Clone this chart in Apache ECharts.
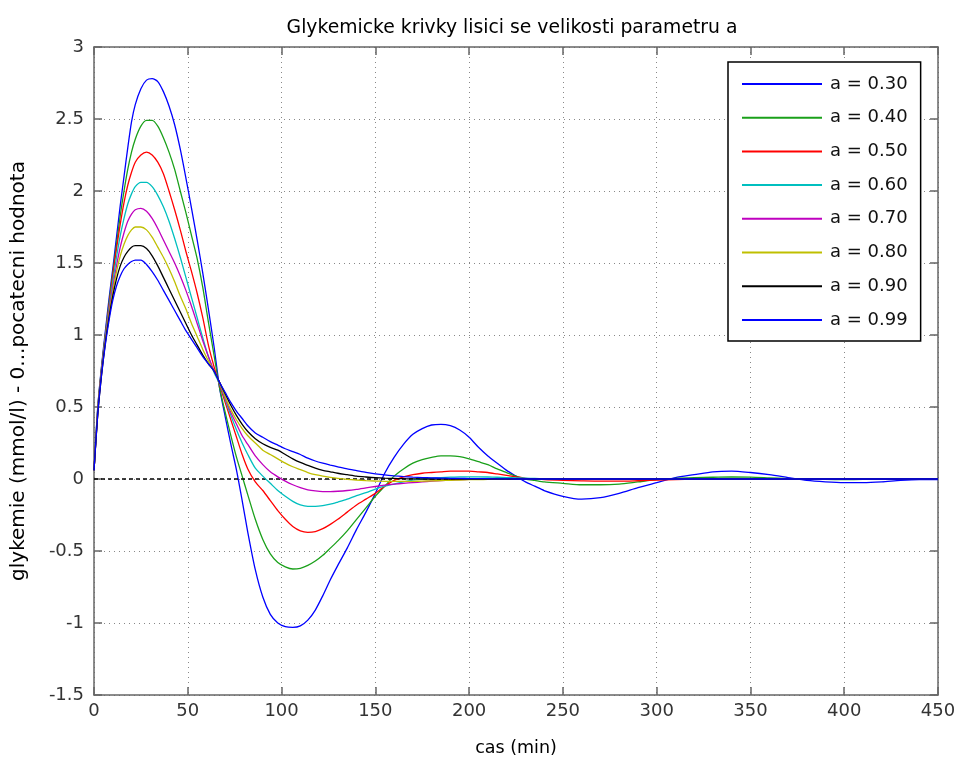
<!DOCTYPE html>
<html>
<head>
<meta charset="utf-8">
<script src="https://cdn.jsdelivr.net/npm/echarts@6/dist/echarts.min.js"></script>
<style>html,body{margin:0;padding:0;background:#fff}#c{width:955px;height:760px}</style>
</head>
<body>
<div id="c"></div>
<script>
const T = [0,2,4,6,8,10,12,14,16,18,20,22,25,28,31,34,37,40,43,46,49,52,55,58,61,64,67,70,73,76,79,82,86,90,94,98,102,106,110,114,118,122,126,130,135,140,145,150,155,160,165,170,175,180,185,190,195,200,205,210,215,220,225,230,235,240,250,260,270,280,290,300,310,320,330,340,350,360,370,380,390,400,410,420,430,440,450];

const a030 = [0.06,0.5,0.78,1.02,1.25,1.46,1.68,1.9,2.1,2.3,2.48,2.6,2.71,2.77,2.78,2.76,2.69,2.59,2.46,2.29,2.09,1.88,1.66,1.43,1.18,0.92,
  0.63,0.43,0.24,0.06,-0.15,-0.37,-0.63,-0.82,-0.94,-1.0,-1.025,-1.03,-1.02,-0.98,-0.91,-0.81,-0.7,-0.6,
  -0.48,-0.35,-0.23,-0.1,0.04,0.15,0.24,0.31,0.35,0.375,0.38,0.37,0.34,0.29,0.22,0.16,0.11,0.06,0.02,-0.02,-0.05,-0.08,
  -0.12,-0.14,-0.13,-0.1,-0.06,-0.025,0.01,0.03,0.05,0.055,0.045,0.03,0.01,-0.01,-0.02,-0.025,-0.025,-0.02,-0.01,-0.005,-0.005];

const a040 = [0.06,0.49,0.77,1.0,1.22,1.43,1.63,1.83,2.0,2.15,2.27,2.36,2.45,2.49,2.49,2.45,2.37,2.27,2.15,2.0,1.85,1.69,1.53,1.33,1.09,0.86,
  0.63,0.46,0.3,0.15,0.02,-0.11,-0.28,-0.42,-0.52,-0.58,-0.61,-0.625,-0.62,-0.6,-0.57,-0.53,-0.48,-0.43,
  -0.36,-0.28,-0.2,-0.12,-0.05,0.02,0.07,0.11,0.135,0.15,0.16,0.16,0.155,0.14,0.12,0.1,0.07,0.045,0.02,0.0,-0.01,-0.02,
  -0.03,-0.04,-0.04,-0.035,-0.02,-0.005,0.005,0.01,0.012,0.014,0.013,0.008,0.003,0,-0.003,-0.004,-0.003,-0.002,-0.001,0,0];

const a050 = [0.06,0.48,0.76,0.99,1.2,1.41,1.6,1.77,1.92,2.04,2.13,2.2,2.25,2.27,2.25,2.2,2.12,2.0,1.87,1.73,1.58,1.44,1.29,1.12,0.93,0.78,
  0.65,0.53,0.41,0.29,0.17,0.07,-0.02,-0.08,-0.15,-0.22,-0.28,-0.33,-0.36,-0.37,-0.365,-0.345,-0.315,-0.28,
  -0.23,-0.18,-0.14,-0.1,-0.05,-0.01,0.015,0.03,0.04,0.045,0.05,0.055,0.055,0.055,0.05,0.045,0.035,0.025,0.015,0.005,0,-0.005,
  -0.01,-0.013,-0.015,-0.015,-0.012,-0.008,-0.004,0,0.002,0.003,0.002,0.001,0,0,0,0,0,0,0,0,0];

const a060 = [0.06,0.47,0.75,0.98,1.18,1.37,1.54,1.69,1.81,1.91,1.98,2.03,2.06,2.06,2.03,1.97,1.89,1.79,1.67,1.54,1.4,1.26,1.12,0.98,0.85,0.74,
  0.66,0.55,0.44,0.34,0.25,0.17,0.075,0.02,-0.03,-0.08,-0.12,-0.155,-0.18,-0.19,-0.19,-0.185,-0.175,-0.16,
  -0.14,-0.115,-0.095,-0.07,-0.05,-0.035,-0.02,-0.008,0,0.006,0.01,0.013,0.015,0.015,0.015,0.014,0.012,0.01,0.008,0.006,0.004,0.002,
  0,-0.002,-0.003,-0.003,-0.002,-0.001,0,0,0,0,0,0,0,0,0,0,0,0,0,0,0];

const a070 = [0.06,0.46,0.74,0.96,1.16,1.33,1.48,1.61,1.71,1.79,1.84,1.87,1.88,1.86,1.81,1.74,1.66,1.58,1.5,1.41,1.31,1.2,1.08,0.96,0.85,0.75,
  0.67,0.56,0.46,0.38,0.3,0.24,0.16,0.1,0.05,0.015,-0.015,-0.04,-0.06,-0.075,-0.083,-0.087,-0.087,-0.085,
  -0.08,-0.072,-0.062,-0.052,-0.043,-0.036,-0.03,-0.025,-0.02,-0.015,-0.011,-0.008,-0.005,-0.003,-0.001,0,0.001,0.001,0.001,0,0,0,
  0,0,0,0,0,0,0,0,0,0,0,0,0,0,0,0,0,0,0,0,0];

const a080 = [0.06,0.46,0.73,0.95,1.14,1.3,1.44,1.55,1.63,1.69,1.73,1.75,1.75,1.73,1.68,1.61,1.54,1.46,1.37,1.27,1.18,1.08,0.99,0.9,0.82,0.75,
  0.67,0.57,0.48,0.41,0.35,0.3,0.25,0.2,0.17,0.14,0.11,0.085,0.065,0.045,0.03,0.02,0.012,0.005,
  -0.002,-0.007,-0.011,-0.014,-0.016,-0.017,-0.017,-0.016,-0.015,-0.013,-0.011,-0.009,-0.007,-0.005,-0.004,-0.003,-0.002,-0.001,0,0,0,0,
  0,0,0,0,0,0,0,0,0,0,0,0,0,0,0,0,0,0,0,0,0];

const a090 = [0.06,0.45,0.72,0.94,1.12,1.27,1.39,1.48,1.54,1.58,1.61,1.62,1.62,1.6,1.55,1.48,1.4,1.32,1.24,1.16,1.08,1.0,0.93,0.86,0.8,0.75,
  0.67,0.59,0.51,0.44,0.38,0.33,0.28,0.245,0.22,0.2,0.17,0.14,0.115,0.095,0.075,0.06,0.05,0.04,
  0.03,0.02,0.014,0.009,0.006,0.004,0.002,0.001,0,0,0,0,0,0,0,0,0,0,0,0,0,0,
  0,0,0,0,0,0,0,0,0,0,0,0,0,0,0,0,0,0,0,0,0];

const a099 = [0.06,0.45,0.72,0.93,1.1,1.24,1.34,1.41,1.46,1.49,1.51,1.52,1.52,1.49,1.44,1.38,1.31,1.24,1.17,1.1,1.03,0.97,0.91,0.85,0.8,0.75,
  0.67,0.6,0.53,0.47,0.42,0.37,0.32,0.29,0.26,0.235,0.21,0.19,0.17,0.145,0.125,0.11,0.097,0.085,
  0.07,0.058,0.046,0.036,0.028,0.022,0.017,0.013,0.01,0.008,0.006,0.005,0.004,0.003,0.002,0.002,0.001,0.001,0,0,0,0,
  0,0,0,0,0,0,0,0,0,0,0,0,0,0,0,0,0,0,0,0,0];

const seriesNames = ['a = 0.30','a = 0.40','a = 0.50','a = 0.60','a = 0.70','a = 0.80','a = 0.90','a = 0.99'];
const seriesValues = [a030,a040,a050,a060,a070,a080,a090,a099];
const xTicks = {min:0, max:450, step:50};
const yTicks = {min:-1.5, max:3, step:0.5};

const colors = ['#0000ff','#1aa01a','#ff0000','#00bfbf','#bf00bf','#bfbf00','#000000','#0000ff'];
const FONT = 'DejaVu Sans';

const chart = echarts.init(document.getElementById('c'), null, {renderer:'canvas'});

const series = seriesValues.map((vals, i) => ({
  name: seriesNames[i],
  type: 'line',
  data: T.map((t, j) => [t, vals[j]]),
  showSymbol: false,
  symbol: 'none',
  smooth: 0.25,
  lineStyle: {color: colors[i], width: 1.3},
  itemStyle: {color: colors[i]},
  z: 3 + i,
  markLine: i === 0 ? {
    silent: true, symbol: 'none', label: {show: false},
    lineStyle: {color: '#000', type: [4, 3], width: 1.5},
    data: [{yAxis: 0}]
  } : undefined
}));

const axisColor = '#666';
function xAx(pos, main) {
  return {
    type: 'value', position: pos, min: xTicks.min, max: xTicks.max, interval: xTicks.step,
    axisLine: {show: true, onZero: false, lineStyle: {color: axisColor, width: 1.5}},
    axisTick: {show: true, inside: true, length: 8, lineStyle: {color: axisColor, width: 1.5}},
    axisLabel: {show: main, color: '#333', fontSize: 18, fontFamily: FONT, margin: 7},
    splitLine: {show: main, lineStyle: {color: '#888', type: [1, 4], width: 1}},
    name: main ? 'cas (min)' : '', nameLocation: 'middle', nameGap: 44,
    nameTextStyle: {color: '#000', fontSize: 17.5, fontFamily: FONT}
  };
}
function yAx(pos, main) {
  return {
    type: 'value', position: pos, min: yTicks.min, max: yTicks.max, interval: yTicks.step,
    axisLine: {show: true, onZero: false, lineStyle: {color: axisColor, width: 1.5}},
    axisTick: {show: true, inside: true, length: 8, lineStyle: {color: axisColor, width: 1.5}},
    axisLabel: {show: main, color: '#333', fontSize: 18, fontFamily: FONT, margin: 10},
    splitLine: {show: main, lineStyle: {color: '#888', type: [1, 4], width: 1}},
    name: main ? 'glykemie (mmol/l) - 0...pocatecni hodnota' : '', nameLocation: 'middle', nameGap: 65,
    nameTextStyle: {color: '#000', fontSize: 20, fontFamily: FONT}
  };
}

chart.setOption({
  animation: false,
  backgroundColor: '#fff',
  title: {
    text: 'Glykemicke krivky lisici se velikosti parametru a',
    left: 507, top: 14, textAlign: 'center',
    textStyle: {fontSize: 18.8, fontWeight: 'normal', fontFamily: FONT, color: '#000'}
  },
  grid: {left: 94, right: 17, top: 47, bottom: 65, containLabel: false, outerBoundsMode: 'none'},
  xAxis: [xAx('bottom', true), xAx('top', false)],
  yAxis: [yAx('left', true), yAx('right', false)],
  legend: {
    data: seriesNames.map((n, i) => ({name: n, icon: 'rect', itemStyle: {color: colors[i]}})),
    orient: 'vertical',
    left: 728, top: 62,
    itemWidth: 80, itemHeight: 2, itemGap: 15.7,
    padding: [13, 13, 12, 14],
    borderColor: '#000', borderWidth: 1.5,
    backgroundColor: '#fff',
    selectedMode: false,
    textStyle: {fontSize: 18, fontFamily: FONT, color: '#111', lineHeight: 16, padding: [0, 0, 0, 3]}
  },
  series: series
});
</script>
</body>
</html>
